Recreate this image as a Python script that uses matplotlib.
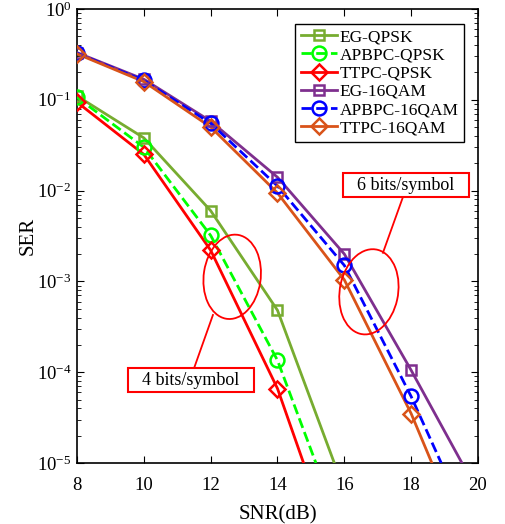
import numpy as np
import matplotlib.pyplot as plt
from matplotlib.patches import Ellipse, Rectangle
from matplotlib.lines import Line2D

plt.rcParams['font.family'] = ['Liberation Serif', 'DejaVu Serif']
plt.rcParams['mathtext.fontset'] = 'custom'
plt.rcParams['mathtext.rm'] = 'Liberation Serif'

# marker positions (dB)
snr = [8, 10, 12, 14, 16, 18]

# QPSK curves (4 bits/symbol)
eg_qpsk = [0.11, 0.038, 6.0e-3, 4.8e-4]
apbpc_qpsk = [0.106, 0.030, 3.2e-3, 1.35e-4]
ttpc_qpsk = [0.094, 0.025, 2.2e-3, 6.6e-5]
# where the curves reach 1e-5
qpsk_end = [15.7, 15.15, 14.78]

# 16QAM curves (6 bits/symbol)
eg_16qam = [0.33, 0.168, 0.058, 0.0140, 2.0e-3, 1.05e-4]
apbpc_16qam = [0.325, 0.163, 0.055, 0.0112, 1.5e-3, 5.4e-5]
ttpc_16qam = [0.32, 0.158, 0.050, 0.0094, 1.04e-3, 3.5e-5]
qam_end = [19.52, 18.9, 18.62]

names = ['EG-QPSK', 'APBPC-QPSK', 'TTPC-QPSK', 'EG-16QAM', 'APBPC-16QAM', 'TTPC-16QAM']
colors = ['#77AC30', '#00FF00', '#FF0000', '#7E2F8E', '#0000FF', '#D95319']
markers = ['s', 'o', 'D', 's', 'o', 'D']
msizes = [7.5, 10, 8, 7.5, 10, 8]
styles = ['-', '--', '-', '-', '--', '-']

series = [eg_qpsk, apbpc_qpsk, ttpc_qpsk, eg_16qam, apbpc_16qam, ttpc_16qam]
ends = qpsk_end + qam_end

fig = plt.figure(figsize=(5.05, 5.24), dpi=100)
ax = fig.add_axes([0.1525, 0.1164, 0.794, 0.8666])

handles = []
for i, vals in enumerate(series):
    x = snr[:len(vals)]
    ax.plot(x + [ends[i]], vals + [1e-5], color=colors[i], ls=styles[i], lw=2.0, zorder=3)
    ax.plot(x, vals, color=colors[i], ls='none', marker=markers[i],
            ms=msizes[i], mfc='none', mew=1.8, zorder=4)
    handles.append(Line2D([], [], color=colors[i], ls=styles[i], lw=2.0,
                          marker=markers[i], ms=msizes[i], mfc='none', mew=1.8))

ax.set_yscale('log')
ax.set_xlim(8, 20)
ax.set_ylim(1e-5, 1)
ax.set_xticks([8, 10, 12, 14, 16, 18, 20])
ax.tick_params(which='both', direction='in', top=True, right=True, labelsize=13.5)
ax.tick_params(which='major', length=5)
ax.tick_params(which='minor', length=3)
ax.tick_params(axis='x', which='minor', bottom=False, top=False)
ax.tick_params(axis='x', pad=10)
ax.tick_params(axis='y', pad=4)
ax.set_xlabel('SNR(dB)', fontsize=15, labelpad=8)
ax.set_ylabel('SER', fontsize=15, labelpad=-1)
for s in ax.spines.values():
    s.set_linewidth(1.2)

leg = ax.legend(handles, names, loc='upper right', bbox_to_anchor=(0.965, 0.967),
                borderaxespad=0, fontsize=12.5, fancybox=False, framealpha=1,
                edgecolor='black', handlelength=2.1, handletextpad=0.15,
                labelspacing=0.12, borderpad=0.3)
leg.get_frame().set_linewidth(1.0)

# annotations
ax.add_patch(Ellipse((0.728, 0.377), 0.145, 0.19, angle=-14, fill=False,
                     ec='red', lw=1.3, transform=ax.transAxes, zorder=5))
ax.add_patch(Ellipse((0.387, 0.41), 0.142, 0.187, angle=-10, fill=False,
                     ec='red', lw=1.3, transform=ax.transAxes, zorder=5))
ax.plot([0.763, 0.813], [0.463, 0.586], color='red', lw=1.3, transform=ax.transAxes, zorder=5)
ax.plot([0.339, 0.292], [0.326, 0.209], color='red', lw=1.3, transform=ax.transAxes, zorder=5)
ax.add_patch(Rectangle((0.663, 0.586), 0.315, 0.053, fc='white', ec='red', lw=1.5,
                       transform=ax.transAxes, zorder=6))
ax.add_patch(Rectangle((0.127, 0.156), 0.314, 0.053, fc='white', ec='red', lw=1.5,
                       transform=ax.transAxes, zorder=6))
ax.text(0.820, 0.612, '6 bits/symbol', transform=ax.transAxes, ha='center', va='center',
        fontsize=13, zorder=7)
ax.text(0.284, 0.182, '4 bits/symbol', transform=ax.transAxes, ha='center', va='center',
        fontsize=13, zorder=7)

fig.savefig('out.png', dpi=100)
